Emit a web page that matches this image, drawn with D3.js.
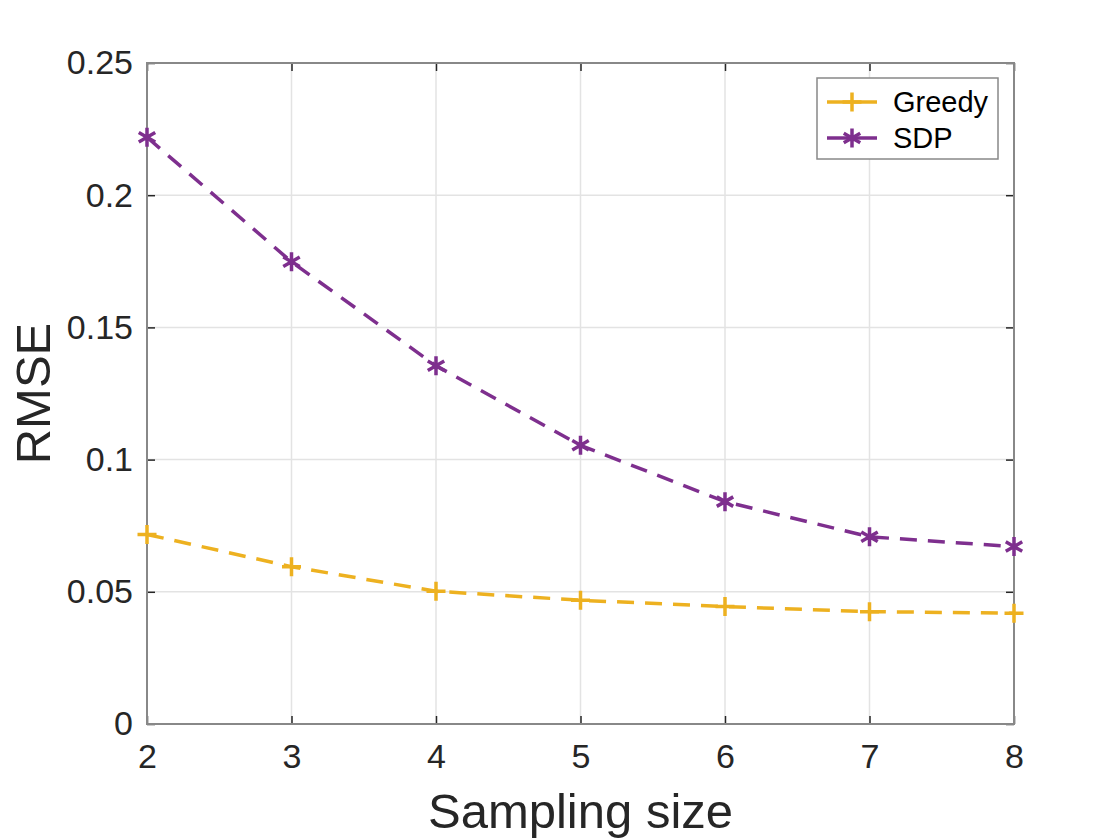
<!DOCTYPE html>
<html>
<head>
<meta charset="utf-8">
<script src="https://cdn.jsdelivr.net/npm/d3@7"></script>
<style>
  body { margin: 0; background: #fff; }
  svg text { font-family: "Liberation Sans", Arial, Helvetica, sans-serif; fill: #262626; }
</style>
</head>
<body>
<svg id="chart" width="1120" height="840"></svg>
<script>
const sizes = [2, 3, 4, 5, 6, 7, 8];
const greedy = [0.0717, 0.0595, 0.0502, 0.0468, 0.0444, 0.0425, 0.0419];
const sdp = [0.2219, 0.1748, 0.1355, 0.1054, 0.0841, 0.0708, 0.0671];
const yTicks = [0, 0.05, 0.1, 0.15, 0.2, 0.25];
const seriesNames = ["Greedy", "SDP"];

const margin = { top: 63, right: 106, bottom: 116, left: 147 },
      width = 1120 - margin.left - margin.right,
      height = 840 - margin.top - margin.bottom;

const colors = { Greedy: "#EDB120", SDP: "#7E2F8E" };

const svg = d3.select("#chart")
  .append("g")
  .attr("transform", `translate(${margin.left},${margin.top})`);

const x = d3.scaleLinear().domain([2, 8]).range([0, width]);
const y = d3.scaleLinear().domain([0, 0.25]).range([height, 0]);

// grid
svg.append("g").selectAll("line")
  .data(sizes)
  .join("line")
  .attr("x1", d => x(d)).attr("x2", d => x(d))
  .attr("y1", 0).attr("y2", height)
  .attr("stroke", "#e3e3e3").attr("stroke-width", 1.5);

svg.append("g").selectAll("line")
  .data(yTicks)
  .join("line")
  .attr("y1", d => y(d)).attr("y2", d => y(d))
  .attr("x1", 0).attr("x2", width)
  .attr("stroke", "#e3e3e3").attr("stroke-width", 1.5);

// axes (ticks pointing inwards, labels outside)
const xAxis = svg.append("g")
  .attr("transform", `translate(0,${height})`)
  .call(d3.axisBottom(x).tickValues(sizes).tickFormat(d3.format("d")).tickSizeInner(-8).tickSizeOuter(0).tickPadding(20));

const yAxis = svg.append("g")
  .call(d3.axisLeft(y).tickValues(yTicks).tickFormat(d => d === 0 ? "0" : String(+d.toFixed(2))).tickSizeInner(-8).tickSizeOuter(0).tickPadding(14));

const xTop = svg.append("g")
  .call(d3.axisTop(x).tickValues(sizes).tickFormat("").tickSizeInner(-8).tickSizeOuter(0));

const yRight = svg.append("g")
  .attr("transform", `translate(${width},0)`)
  .call(d3.axisRight(y).tickValues(yTicks).tickFormat("").tickSizeInner(-8).tickSizeOuter(0));

[xAxis, yAxis, xTop, yRight].forEach(a => {
  a.select(".domain").remove();
  a.selectAll(".tick line").attr("stroke", "#262626").attr("stroke-width", 1.5);
  a.selectAll(".tick text").attr("font-size", "34px").style("fill", "#262626");
});

// box
svg.append("rect")
  .attr("width", width).attr("height", height)
  .attr("fill", "none").attr("stroke", "#888").attr("stroke-width", 2);

// lines + markers
const line = d3.line().x((d, i) => x(sizes[i])).y(d => y(d));

function marker(sel, name) {
  const s = 9.5;
  if (name === "Greedy") {
    sel.append("path").attr("d", `M${-s},0H${s}M0,${-s}V${s}`);
  } else {
    const a = s * 0.866, b = s * 0.5;
    sel.append("path").attr("d", `M0,${-s}V${s}M${-a},${-b}L${a},${b}M${-a},${b}L${a},${-b}`);
  }
  sel.selectAll("path").attr("stroke", colors[name]).attr("stroke-width", 3.5).attr("fill", "none");
}

[[greedy, "Greedy"], [sdp, "SDP"]].forEach(([vals, name]) => {
  svg.append("path")
    .datum(vals)
    .attr("d", line)
    .attr("fill", "none")
    .attr("stroke", colors[name])
    .attr("stroke-width", 3.5)
    .attr("stroke-dasharray", "17,11");

  svg.append("g").selectAll("g")
    .data(vals)
    .join("g")
    .attr("transform", (d, i) => `translate(${x(sizes[i])},${y(d)})`)
    .each(function() { marker(d3.select(this), name); });
});

// axis titles
svg.append("text")
  .attr("x", width / 2).attr("y", height + 104)
  .attr("text-anchor", "middle")
  .attr("font-size", "49px")
  .text("Sampling size");

svg.append("text")
  .attr("transform", `translate(${-97},${height / 2}) rotate(-90)`)
  .attr("text-anchor", "middle")
  .attr("font-size", "49px")
  .text("RMSE");

// legend
const legend = svg.append("g").attr("transform", `translate(${817 - margin.left},${78 - margin.top})`);
legend.append("rect")
  .attr("width", 181).attr("height", 81)
  .attr("fill", "#fff").attr("stroke", "#888").attr("stroke-width", 1.5);

seriesNames.forEach((name, i) => {
  const row = legend.append("g").attr("transform", `translate(0,${24 + i * 36})`);
  row.append("line")
    .attr("x1", 10).attr("x2", 60)
    .attr("stroke", colors[name]).attr("stroke-width", 3.5);
  const m = row.append("g").attr("transform", "translate(35,0)");
  marker(m, name);
  row.append("text")
    .attr("x", 76).attr("dy", "0.35em")
    .attr("font-size", "29px")
    .style("fill", "#000")
    .text(name);
});
</script>
</body>
</html>
